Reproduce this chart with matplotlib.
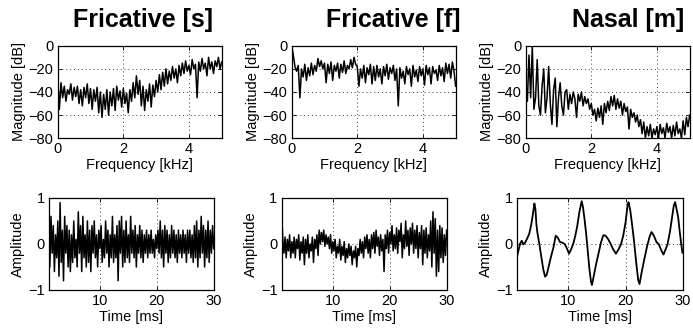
import numpy as np
import matplotlib
matplotlib.use('Agg')
import matplotlib.pyplot as plt

plt.rcParams['font.family'] = ['Liberation Sans', 'DejaVu Sans']
plt.rcParams['font.size'] = 10.5

titles = ['Fricative [s]', 'Fricative [f]', 'Nasal [m]']

# magnitude spectra, 0..5 kHz in 0.05 kHz steps
s_mag = [-28, -55, -32, -45, -35, -48, -38, -42, -33, -47,
         -36, -44, -35, -50, -38, -52, -36, -45, -33, -50,
         -37, -55, -38, -48, -36, -58, -40, -62, -42, -55,
         -38, -60, -40, -52, -37, -56, -35, -47, -39, -53,
         -37, -50, -41, -58, -38, -48, -32, -45, -26, -42,
         -30, -52, -35, -56, -38, -48, -33, -53, -34, -44,
         -30, -40, -25, -38, -23, -35, -20, -33, -22, -30,
         -18, -28, -20, -32, -17, -26, -15, -24, -13, -22,
         -17, -25, -12, -20, -16, -45, -14, -22, -11, -20,
         -15, -26, -10, -20, -14, -24, -13, -18, -10, -20,
         -14]
f_mag = [0, -8, -18, -22, -17, -45, -20, -27, -16, -30,
         -19, -26, -15, -25, -17, -22, -11, -18, -13, -20,
         -15, -32, -16, -24, -14, -30, -17, -22, -15, -28,
         -16, -23, -13, -24, -17, -20, -12, -19, -10, -16,
         -18, -35, -20, -28, -17, -32, -19, -25, -16, -33,
         -18, -30, -17, -27, -20, -33, -18, -26, -16, -29,
         -19, -24, -17, -30, -20, -52, -19, -28, -22, -33,
         -18, -25, -20, -35, -17, -27, -21, -31, -18, -26,
         -20, -34, -17, -25, -19, -33, -18, -24, -21, -30,
         -17, -26, -19, -31, -15, -24, -16, -28, -14, -22,
         -35]
m_mag = [-40, -48, -8, -45, 0, -55, -45, -12, -52, -60,
         -35, -20, -58, -45, -18, -50, -68, -38, -28, -70,
         -45, -32, -52, -60, -40, -38, -55, -42, -50, -40,
         -46, -62, -42, -48, -40, -52, -44, -50, -46, -55,
         -50, -60, -55, -65, -54, -62, -52, -68, -50, -58,
         -48, -56, -44, -52, -43, -55, -46, -54, -48, -60,
         -50, -57, -53, -72, -55, -62, -58, -66, -60, -70,
         -64, -76, -66, -80, -70, -78, -68, -80, -72, -77,
         -70, -80, -68, -76, -71, -80, -67, -75, -70, -80,
         -69, -78, -66, -76, -72, -80, -65, -77, -62, -70,
         -60]

# waveforms, 1..30 ms in 0.2 ms steps
s_wave = [0.3, -0.5, 0.6, -0.2, 0.4, -0.6, 0.2, -0.3, 0.5, -0.7,
          0.9, -0.4, 0.3, -0.8, 0.6, -0.2, 0.4, -0.5, 0.3, -0.6,
          0.2, -0.4, 0.5, -0.3, 0.1, -0.5, 0.7, -0.2, 0.4, -0.6,
          0.6, -0.3, 0.2, -0.5, 0.5, -0.4, 0.3, -0.6, 0.4, -0.2,
          0.5, -0.3, 0.2, -0.5, 0.3, -0.1, 0.4, -0.4, 0.1, -0.3,
          0.5, -0.2, 0.3, -0.5, 0.2, -0.3, 0.6, -0.4, 0.2, -0.3,
          0.4, -0.8, 0.5, -0.2, 0.6, -0.5, 0.3, -0.4, 0.5, -0.3,
          0.2, -0.4, 0.6, -0.2, 0.3, -0.3, 0.4, -0.5, 0.2, -0.2,
          0.4, -0.3, 0.3, -0.4, 0.2, -0.2, 0.3, -0.3, 0.2, -0.2,
          0.3, -0.2, 0.1, -0.3, 0.2, -0.1, 0.3, -0.2, 0.5, -0.3,
          0.3, -0.5, 0.4, -0.2, 0.3, -0.4, 0.2, -0.3, 0.4, -0.2,
          0.3, -0.3, 0.2, -0.4, 0.3, -0.2, 0.2, -0.3, 0.3, -0.2,
          0.2, -0.4, 0.3, -0.2, 0.3, -0.3, 0.2, -0.4, 0.4, -0.3,
          0.5, -0.5, 0.3, -0.3, 0.6, -0.2, 0.4, -0.5, 0.3, -0.3,
          0.5, -0.4, 0.3, -0.2, 0.4, -0.1]
f_wave = [0.75, 0.1, -0.2, 0.15, -0.3, 0.1, -0.15, 0.2, -0.3, 0.05,
          -0.2, 0.15, -0.3, 0.1, -0.1, 0.2, -0.35, 0.05, -0.2, 0.15,
          -0.45, 0.1, -0.2, 0.2, -0.3, 0.0, -0.15, 0.15, -0.4, 0.1,
          -0.1, 0.2, -0.25, 0.3, 0.0, 0.25, 0.05, 0.3, -0.05, 0.2,
          0.0, 0.15, -0.1, 0.2, -0.2, 0.05, -0.15, 0.1, -0.3, -0.05,
          -0.2, 0.1, -0.35, -0.05, -0.25, 0.05, -0.4, -0.1, -0.3, 0.0,
          -0.25, -0.05, -0.45, -0.15, -0.3, -0.05, -0.5, -0.1, -0.25, 0.1,
          -0.2, 0.05, -0.3, 0.15, -0.1, 0.2, -0.2, 0.1, -0.3, 0.2,
          -0.1, 0.25, -0.2, 0.3, -0.05, 0.15, -0.25, 0.2, -0.15, 0.1,
          -0.6, 0.2, -0.1, 0.3, -0.2, 0.25, 0.0, 0.4, -0.15, 0.2,
          -0.1, 0.35, -0.2, 0.3, 0.05, 0.45, -0.3, 0.2, -0.1, 0.5,
          -0.05, 0.3, -0.25, 0.35, 0.0, 0.45, -0.2, 0.3, -0.1, 0.4,
          -0.3, 0.25, -0.1, 0.4, -0.45, 0.3, -0.2, 0.35, -0.3, 0.2,
          -0.15, 0.5, -0.5, 0.7, -0.2, 0.55, -0.7, 0.3, -0.6, 0.4,
          -0.3, 0.35, -0.4, 0.2, -0.25, 0.3]

# nasal waveform read as (time, amplitude) points
m_time = [1.0, 1.58, 1.87, 2.16, 2.45, 2.74, 3.15, 3.5, 3.79, 4.08,
          4.26, 4.43, 4.6, 4.9, 5.13, 5.36, 5.65, 5.94, 6.23, 6.52,
          6.93, 7.4, 7.8, 8.15, 8.56, 8.97, 9.43, 9.84, 10.13, 10.48,
          10.88, 11.23, 11.58, 11.93, 12.34, 12.57, 12.8, 13.1, 13.38, 13.67,
          13.97, 14.14, 14.43, 14.84, 15.24, 15.71, 16.12, 16.52, 16.99, 17.45,
          17.86, 18.33, 18.73, 19.2, 19.6, 20.01, 20.36, 20.53, 20.83, 21.17,
          21.52, 21.87, 22.22, 22.45, 22.8, 23.27, 23.79, 24.26, 24.55, 24.95,
          25.42, 25.83, 26.29, 26.64, 26.99, 27.34, 27.74, 28.09, 28.44, 28.67,
          28.97, 29.2, 29.49, 29.78, 29.95]
m_wave = [-0.30, 0.01, 0.07, -0.01, 0.03, 0.10, 0.21, 0.40, 0.62, 0.88,
          0.76, 0.43, 0.25, 0.03, -0.15, -0.34, -0.56, -0.71, -0.67, -0.52,
          -0.30, -0.08, 0.18, 0.14, 0.04, 0.03, -0.01, -0.12, -0.21, -0.12,
          0.01, 0.18, 0.40, 0.69, 0.93, 0.80, 0.58, 0.25, -0.12, -0.52,
          -0.82, -0.89, -0.71, -0.45, -0.23, 0.03, 0.19, 0.18, 0.10, -0.01,
          -0.12, -0.21, -0.13, -0.01, 0.18, 0.47, 0.84, 0.91, 0.73, 0.40,
          0.03, -0.41, -0.79, -0.87, -0.63, -0.34, -0.04, 0.18, 0.26, 0.18,
          0.04, -0.01, -0.15, -0.23, -0.12, -0.01, 0.25, 0.54, 0.84, 0.91,
          0.73, 0.58, 0.25, -0.04, -0.19]

spectra = [s_mag, f_mag, m_mag]
waves = [s_wave, f_wave, None]

top_pos = [[0.0833, 0.5787, 0.2366, 0.2817],
           [0.4209, 0.5787, 0.2366, 0.2817],
           [0.7586, 0.5787, 0.2366, 0.2817]]
bot_pos = [[0.0703, 0.1159, 0.2381, 0.2805],
           [0.4064, 0.1159, 0.2381, 0.2805],
           [0.7457, 0.1159, 0.2395, 0.2805]]
title_x = [143, 393, 628]

fig = plt.figure(figsize=(6.93, 3.28), dpi=100)


def style_axes(ax):
    ax.tick_params(direction='in', length=3, top=True, right=True,
                   labelsize=10.5, pad=3, width=0.6)
    ax.grid(True, color='0.25', linestyle=(0, (1, 3)), linewidth=0.7)
    for sp in ax.spines.values():
        sp.set_linewidth(0.9)


for i in range(3):
    ax = fig.add_axes(top_pos[i])
    mag = spectra[i]
    freq = np.linspace(0, 5, len(mag))
    ax.plot(freq, mag, color='k', lw=1.1)
    ax.set_xlim(0, 5)
    ax.set_ylim(-80, 0)
    ax.set_xticks([0, 2, 4])
    ax.set_yticks([-80, -60, -40, -20, 0])
    ax.set_xlabel('Frequency [kHz]', labelpad=1)
    ax.set_ylabel('Magnitude [dB]', labelpad=2)
    style_axes(ax)
    fig.text(title_x[i] / 693, 1 - 27 / 328, titles[i], ha='center',
             va='baseline', fontsize=18, fontweight='bold')

    ax = fig.add_axes(bot_pos[i])
    if waves[i] is not None:
        t = np.linspace(1, 30, len(waves[i]))
        ax.plot(t, waves[i], color='k', lw=1.1)
    else:
        ax.plot(m_time, m_wave, color='k', lw=1.3)
    ax.set_xlim(1, 30)
    ax.set_ylim(-1, 1)
    ax.set_xticks([10, 20, 30])
    ax.set_yticks([-1, 0, 1])
    ax.set_xlabel('Time [ms]', labelpad=1)
    ax.set_ylabel('Amplitude', labelpad=2)
    style_axes(ax)

fig.savefig('out.png', dpi=100)
